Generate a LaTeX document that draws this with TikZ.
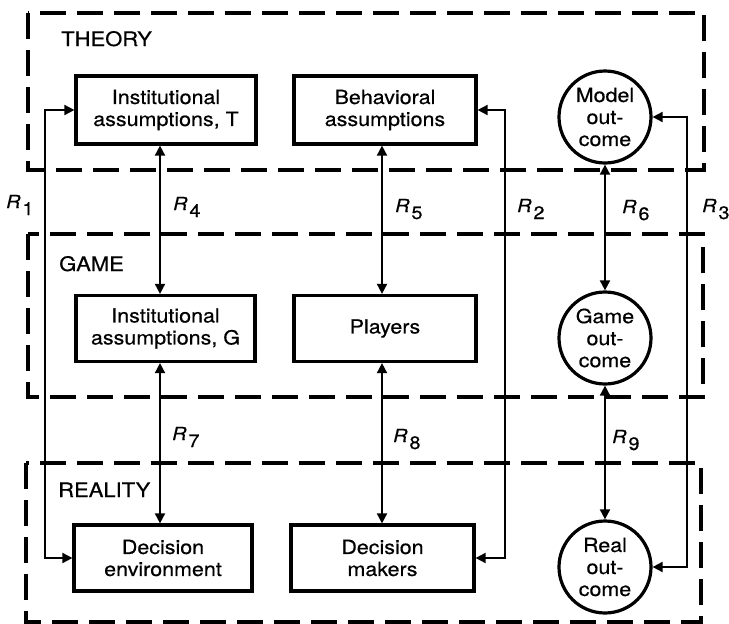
\documentclass[tikz,border=0pt]{standalone}
\usepackage{fontspec}
\setmainfont{TeX Gyre Heros}[FakeStretch=1.1, FakeBold=0.5]
\usetikzlibrary{arrows.meta}

% relation label: italic R with a lowered index of the same size
\newcommand{\relR}[1]{{\itshape R}\kern2pt\raisebox{-7pt}{#1}}

\begin{document}
\begin{tikzpicture}[x=1pt,y=-1pt,
  levelframe/.style={line width=3.2pt, dash pattern=on 26pt off 11pt},
  leveltitle/.style={anchor=base west, inner sep=0pt, font=\fontsize{20}{22}\selectfont},
  blockbox/.style={draw, line width=3.2pt, rectangle, align=center, inner sep=0pt,
    font=\fontsize{19.5}{22}\selectfont},
  outcome/.style={draw, line width=3.2pt, circle, minimum size=92pt, align=center, inner sep=0pt,
    font=\fontsize{19.5}{22}\selectfont},
  link/.style={line width=1.8pt, {Triangle[length=10pt,width=10pt]}-{Triangle[length=10pt,width=10pt]}},
  rlabel/.style={anchor=base west, inner sep=0pt, font=\fontsize{18}{20}\selectfont}
]
\useasboundingbox (0,0) rectangle (729,624);

% the three levels
\draw[levelframe] (28,13) rectangle (704,170);
\draw[levelframe] (28,234) rectangle (703,397);
\draw[levelframe] (26,463) rectangle (701,622);
\node[leveltitle] (theory) at (61,46) {THEORY};
\node[leveltitle] (game) at (59,271) {GAME};
\node[leveltitle] (reality) at (58,497) {REALITY};

% theory level
\node[blockbox, minimum width=180pt, minimum height=68pt] (it) at (166,110) {Institutional\\assumptions, T};
\node[blockbox, minimum width=182pt, minimum height=68pt] (ba) at (385,110) {Behavioral\\assumptions};
\node[outcome] (mo) at (605,117) {Model\\out-\\come};

% game level
\node[blockbox, minimum width=179pt, minimum height=66pt] (ig) at (165.5,328.5) {Institutional\\assumptions, G};
\node[blockbox, minimum width=182pt, minimum height=66pt] (pl) at (385,328.5) {Players};
\node[outcome] (go) at (605,338) {Game\\out-\\come};

% reality level
\node[blockbox, minimum width=178pt, minimum height=66pt] (de) at (163,558) {Decision\\environment};
\node[blockbox, minimum width=183pt, minimum height=66pt] (dm) at (382.5,558) {Decision\\makers};
\node[outcome] (ro) at (605,567) {Real\\out-\\come};

% vertical tracks of the relations
\coordinate (xa) at (45,0);
\coordinate (xb) at (160,0);
\coordinate (xc) at (382,0);
\coordinate (xd) at (505,0);
\coordinate (xe) at (687,0);

% relations
\draw[link] (it.west) -- (it.west -| xa) -- (de.west -| xa) -- (de.west);
\draw[link] (ba.east) -- (ba.east -| xd) -- (dm.east -| xd) -- (dm.east);
\draw[link] (mo.east) -- (mo.east -| xe) -- (ro.east -| xe) -- (ro.east);
\draw[link] (it.south -| xb) -- (ig.north -| xb);
\draw[link] (ba.south -| xc) -- (pl.north -| xc);
\draw[link] (mo.south) -- (go.north);
\draw[link] (ig.south -| xb) -- (de.north -| xb);
\draw[link] (pl.south -| xc) -- (dm.north -| xc);
\draw[link] (go.south) -- (ro.north);

\node[rlabel] (r1) at (6,208) {\relR{1}};
\node[rlabel] (r2) at (517,212) {\relR{2}};
\node[rlabel] (r3) at (702,212) {\relR{3}};
\node[rlabel] (r4) at (173,210) {\relR{4}};
\node[rlabel] (r5) at (395,212) {\relR{5}};
\node[rlabel] (r6) at (622,213) {\relR{6}};
\node[rlabel] (r7) at (172,440) {\relR{7}};
\node[rlabel] (r8) at (393,442) {\relR{8}};
\node[rlabel] (r9) at (612,443) {\relR{9}};
\end{tikzpicture}
\end{document}
